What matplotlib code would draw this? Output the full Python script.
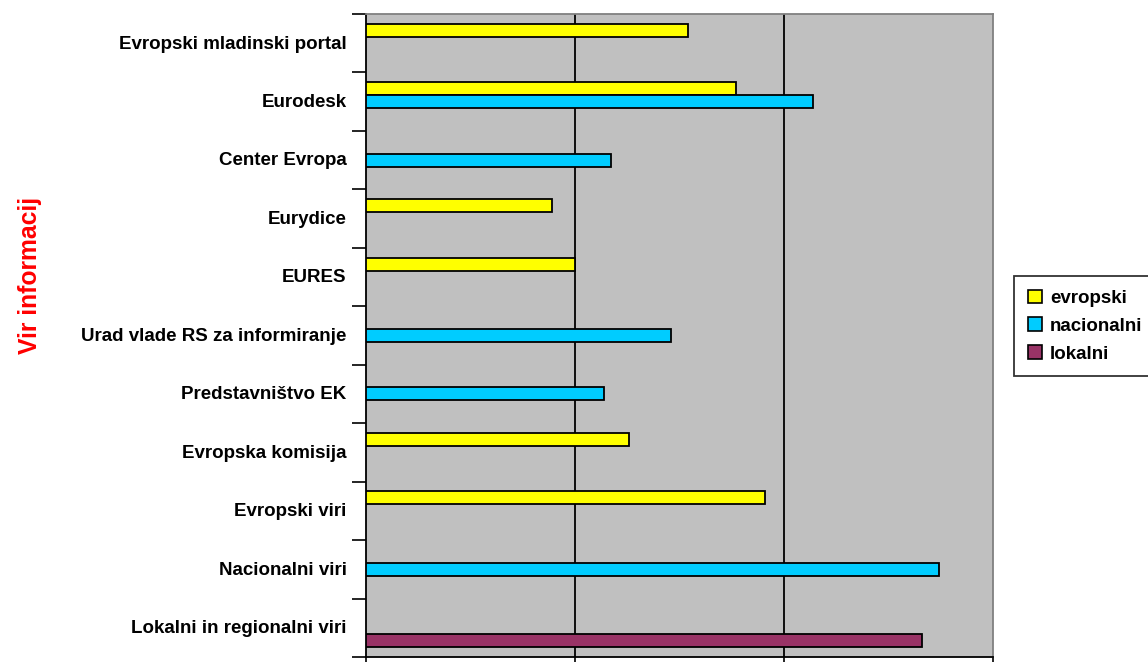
import numpy as np
import matplotlib
matplotlib.use("Agg")
import matplotlib.pyplot as plt
from matplotlib.patches import Patch

plt.rcParams['font.family'] = ['Liberation Sans', 'DejaVu Sans']

categories = [
    "Evropski mladinski portal",
    "Eurodesk",
    "Center Evropa",
    "Eurydice",
    "EURES",
    "Urad vlade RS za informiranje",
    "Predstavništvo EK",
    "Evropska komisija",
    "Evropski viri",
    "Nacionalni viri",
    "Lokalni in regionalni viri",
]
nan = np.nan
evropski = [15.4, 17.7, nan, 8.9, 10.0, nan, nan, 12.6, 19.1, nan, nan]
nacionalni = [nan, 21.4, 11.7, nan, nan, 14.6, 11.4, nan, nan, 27.4, nan]
lokalni = [nan, nan, nan, nan, nan, nan, nan, nan, nan, nan, 26.6]

series = ["evropski", "nacionalni", "lokalni"]
colors = ["#FFFF00", "#00CCFF", "#993366"]

fig = plt.figure(figsize=(11.48, 6.62), dpi=100)
ax = fig.add_axes([366/1148, 1 - 657/662, 627/1148, 643/662])
ax.set_facecolor("#C0C0C0")

y = np.arange(len(categories))
h = 0.222
for k, (vals, c) in enumerate(zip([evropski, nacionalni, lokalni], colors)):
    ax.barh(y + (k - 1) * h, vals, height=h, color=c, edgecolor="black",
            linewidth=1.3, zorder=3)

ax.set_xlim(0, 30)
ax.set_ylim(len(categories) - 0.5, -0.5)
ax.set_xticks([0, 10, 20, 30])
ax.set_xticklabels([])
ax.tick_params(axis="x", direction="out", length=6, width=1.2)
for xv in [10, 20]:
    ax.axvline(xv, color="black", linewidth=1.3, zorder=1)

ax.set_yticks(y - 0.02)
ax.set_yticklabels(categories, fontsize=13.5, fontweight="bold")
ax.tick_params(axis="y", which="major", length=0, pad=14)
ax.set_yticks(np.arange(len(categories) + 1) - 0.5, minor=True)
ax.tick_params(axis="y", which="minor", direction="out", length=10, width=1.2)

for s in ["left", "bottom"]:
    ax.spines[s].set_color("black")
    ax.spines[s].set_linewidth(1.3)
for s in ["top", "right"]:
    ax.spines[s].set_color("#808080")
    ax.spines[s].set_linewidth(1.3)

fig.text(30/1148, 1 - 275/662, "Vir informacij", rotation=90, color="#FF0000",
         fontsize=17.8, fontweight="bold", ha="center", va="center")

handles = [Patch(facecolor=c, edgecolor="black", linewidth=1.2) for c in colors]
leg = fig.legend(handles, series, loc="upper left",
                 bbox_to_anchor=(1014/1148, 1 - 276/662),
                 prop={"weight": "bold", "size": 13.5},
                 frameon=True, fancybox=False, edgecolor="black",
                 handlelength=0.75, handleheight=0.75, handletextpad=0.45,
                 labelspacing=0.56, borderpad=0.72, borderaxespad=0)
leg.get_frame().set_linewidth(1.3)

fig.savefig("out.png", dpi=100)
